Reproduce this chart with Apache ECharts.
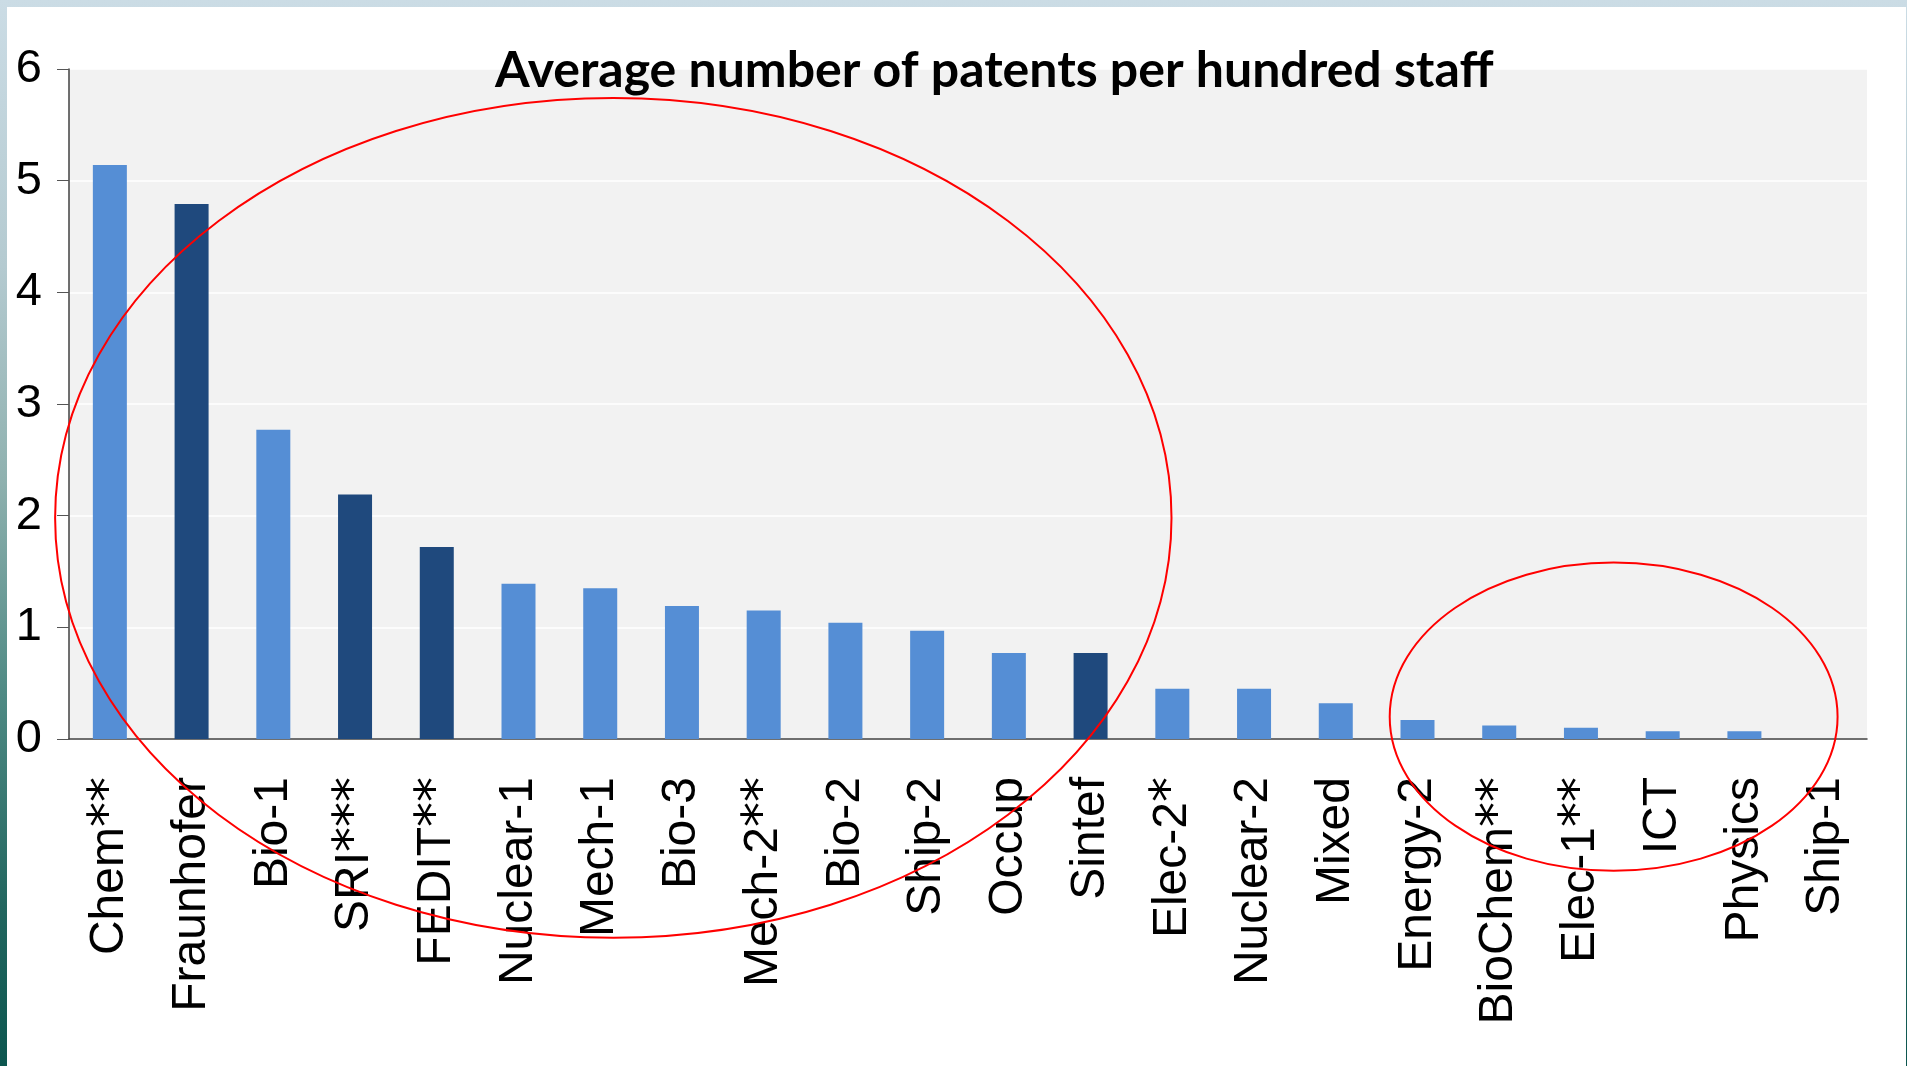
<!DOCTYPE html>
<html>
<head>
<meta charset="utf-8">
<script src="https://cdn.jsdelivr.net/npm/echarts@6/dist/echarts.min.js"></script>
<style>
  html, body { margin: 0; padding: 0; }
  body {
    width: 1907px; height: 1066px; overflow: hidden; position: relative;
    background: linear-gradient(to bottom, #cbdce5 0%, #b4cad0 25%, #8fb1af 45%, #4f8a84 65%, #22665f 85%, #0c564f 100%);
  }
  #panel { position: absolute; left: 7px; top: 7px; width: 1899px; height: 1059px; background: #fff; }
  #chart { position: absolute; left: 0; top: 0; width: 1907px; height: 1066px; }
</style>
</head>
<body>
<div id="panel"></div>
<div id="chart"></div>
<script>
// data
const categories = ['Chem**', 'Fraunhofer', 'Bio-1', 'SRI***', 'FEDIT**', 'Nuclear-1', 'Mech-1', 'Bio-3',
  'Mech-2**', 'Bio-2', 'Ship-2', 'Occup', 'Sintef', 'Elec-2*', 'Nuclear-2', 'Mixed', 'Energy-2',
  'BioChem**', 'Elec-1**', 'ICT', 'Physics', 'Ship-1'];
const patentsPer100 = [5.14, 4.79, 2.77, 2.19, 1.72, 1.39, 1.35, 1.19, 1.15, 1.04, 0.97, 0.77, 0.77,
  0.45, 0.45, 0.32, 0.17, 0.12, 0.10, 0.07, 0.07, 0];
const darkCategories = ['Fraunhofer', 'SRI***', 'FEDIT**', 'Sintef'];

// red rings drawn on top: centre (category index, value), radii (categories, value units)
const ringCx = [6.16, 18.40];
const ringCy = [1.98, 0.20];
const ringRx = [6.83, 2.74];
const ringRy = [3.76, 1.38];

const colorLight = '#558ed5';
const colorDark = '#1f497d';

const chart = echarts.init(document.getElementById('chart'));

// asterisks are drawn bigger, like in the original slide font
function labelRich(value) {
  const m = value.match(/^(.*?)(\*+)$/);
  if (!m) return value;
  return m[1] + '{s|' + m[2] + '}';
}

chart.setOption({
  animation: false,
  title: {
    text: 'Average number of patents per hundred staff',
    left: 490,
    top: 41,
    textStyle: { fontFamily: 'Lato', fontWeight: 'bold', fontSize: 50, color: '#000' },
  },
  grid: {
    left: 69, top: 69, right: 40, bottom: 327,
    show: true, backgroundColor: '#f2f2f2', borderWidth: 0,
  },
  xAxis: {
    type: 'category',
    data: categories,
    axisLine: { lineStyle: { color: '#404040', width: 1.5 } },
    axisTick: { length: 14, lineStyle: { color: '#555' } },
    axisLabel: {
      interval: 0, rotate: 90, margin: 38,
      fontFamily: 'Liberation Sans', fontSize: 48, color: '#000',
      formatter: labelRich,
      rich: {
        s: { fontFamily: 'DejaVu Sans', fontSize: 50, color: '#000' },
      },
    },
  },
  yAxis: {
    type: 'value',
    min: 0, max: 6, interval: 1,
    axisLine: { show: true, lineStyle: { color: '#404040', width: 1.5 } },
    axisTick: { show: true, length: 12, lineStyle: { color: '#555' } },
    axisLabel: { margin: 27, fontFamily: 'Liberation Sans', fontSize: 47, color: '#000' },
    splitLine: { lineStyle: { color: '#fff', width: 1.5 } },
  },
  series: [{
    type: 'bar',
    barWidth: 34,
    data: patentsPer100.map((v, i) => ({
      value: v,
      itemStyle: { color: darkCategories.includes(categories[i]) ? colorDark : colorLight },
    })),
  }],
});

// place the rings through the axes' own scales
const p0 = chart.convertToPixel({ gridIndex: 0 }, [0, 0]);
const p1 = chart.convertToPixel({ gridIndex: 0 }, [1, 1]);
const sx = p1[0] - p0[0];
const sy = p0[1] - p1[1];

chart.setOption({
  graphic: ringCx.map((cx, i) => ({
    type: 'ellipse',
    silent: true,
    z: 100,
    shape: {
      cx: p0[0] + cx * sx,
      cy: p0[1] - ringCy[i] * sy,
      rx: ringRx[i] * sx,
      ry: ringRy[i] * sy,
    },
    style: { fill: 'none', stroke: '#ff0000', lineWidth: 2 },
  })),
});
</script>
</body>
</html>
